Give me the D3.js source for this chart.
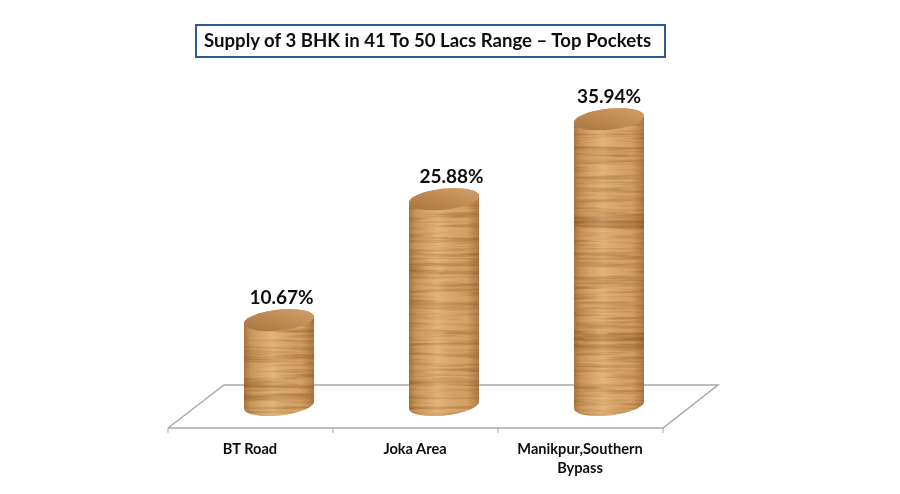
<!DOCTYPE html>
<html><head><meta charset="utf-8">
<script src="https://cdn.jsdelivr.net/npm/d3@7"></script>
<style>html,body{margin:0;padding:0;background:#fff}svg{display:block}text{font-family:Lato,sans-serif;fill:#111}</style>
</head><body><div id="c"></div>
<script>
const categories=["BT Road","Joka Area","Manikpur,Southern Bypass"];
const values=[10.67,25.88,35.94];
const valueLabels=["10.67%","25.88%","35.94%"];
const titleText="Supply of 3 BHK in 41 To 50 Lacs Range – Top Pockets";
const grainBT=[[6.0,.35],[2.4,.45],[1.0,.4]];
const grainJoka=[[17.7,.35],[16.7,.4],[12.7,.4],[2.9,.35]];
const grainManikpur=[[23.6,.4],[23.0,.65],[22.5,.55],[8.9,.5],[8.2,.7],[7.3,.6]];
const grains=[grainBT,grainJoka,grainManikpur];

const W=900,H=494;
const svg=d3.select("#c").append("svg").attr("width",W).attr("height",H);
const defs=svg.append("defs");
const x=d3.scaleBand().domain(categories).range([168,663]);
const y=d3.scaleLinear().domain([0,40]).range([405,87]);
const depthX=56,depthY=43,floorY=428;

const blur=defs.append("filter").attr("id","soft").attr("x","-5%").attr("y","-20%").attr("width","110%").attr("height","140%");
blur.append("feGaussianBlur").attr("stdDeviation",0.55);

const side=defs.append("linearGradient").attr("id","side");
[[0,"#7a4518",.6],[.12,"#8a5220",.22],[.42,"#fff0d0",.16],[.8,"#8a5220",.08],[1,"#6d3f15",.48]]
 .forEach(s=>side.append("stop").attr("offset",s[0]).attr("stop-color",s[1]).attr("stop-opacity",s[2]));
const cap=defs.append("linearGradient").attr("id","cap").attr("x1",0).attr("x2",1).attr("y1",1).attr("y2",0);
[[0,"#a8733e"],[.5,"#bf8a53"],[1,"#cfa06c"]].forEach(s=>cap.append("stop").attr("offset",s[0]).attr("stop-color",s[1]));
const wob=defs.append("filter").attr("id","wobble").attr("filterUnits","userSpaceOnUse").attr("x",0).attr("y",0).attr("width",W).attr("height",H);
wob.append("feTurbulence").attr("type","fractalNoise").attr("baseFrequency","0.03 0.02").attr("numOctaves",2).attr("seed",5).attr("result","n");
wob.append("feDisplacementMap").attr("in","SourceGraphic").attr("in2","n").attr("scale",2.5).attr("xChannelSelector","R").attr("yChannelSelector","G");
wob.append("feGaussianBlur").attr("stdDeviation","1 0.8");

categories.forEach((c,i)=>{
 const f=defs.append("filter").attr("id","grain"+i).attr("filterUnits","userSpaceOnUse")
   .attr("x",0).attr("y",0).attr("width",W).attr("height",H);
 f.append("feTurbulence").attr("type","fractalNoise").attr("baseFrequency","0.014 0.3").attr("numOctaves",4).attr("seed",i*7+3);
 f.append("feColorMatrix").attr("values","0 0 0 0 0.47  0 0 0 0 0.24  0 0 0 0 0.06  3.0 0 0 0 -1.3");
 f.append("feGaussianBlur").attr("stdDeviation","0.8 0.45");
});

const floor=svg.append("g").attr("filter","url(#soft)");
const x0=x.range()[0],x1=x.range()[1];
floor.append("path").attr("fill","none").attr("stroke","#a9a9a9").attr("stroke-width",1.5)
 .attr("d",d3.line()([[x0,floorY],[x0+depthX,floorY-depthY],[x1+depthX-1,floorY-depthY],[x1,floorY],[x0,floorY]]));
[x0,...categories.map(c=>x(c)+x.bandwidth())].forEach(t=>floor.append("line")
 .attr("x1",t).attr("x2",t).attr("y1",floorY).attr("y2",floorY+5).attr("stroke","#a9a9a9").attr("stroke-width",1));

const R=35,RY=10.5,TILT=6,rad=TILT*Math.PI/180,dy=R*Math.tan(rad);
const cyl=svg.append("g").attr("filter","url(#soft)");
categories.forEach((c,i)=>{
 const cx=x(c)+x.bandwidth()/2+28.5, top=y(values[i]), base=y(0);
 const arc=(X,Y,sw)=>`A${R/Math.cos(rad)} ${RY} ${-TILT} 0 ${sw} ${X} ${Y}`;
 const d=`M${cx-R} ${top+dy}L${cx-R} ${base+dy}${arc(cx+R,base-dy,0)}L${cx+R} ${top-dy}${arc(cx-R,top+dy,0)}Z`;
 const id="clip"+i;
 defs.append("clipPath").attr("id",id).append("path").attr("d",d);
 const g=cyl.append("g").attr("clip-path",`url(#${id})`);
 const box=s=>s.attr("x",cx-R-2).attr("y",top-14).attr("width",2*R+4).attr("height",base-top+30);
 box(g.append("rect")).attr("fill","#dcA76C");
 box(g.append("rect")).attr("fill","#000").attr("filter",`url(#grain${i})`);
 const bands=g.append("g").attr("filter","url(#wobble)");
 grains[i].forEach(b=>bands.append("rect").attr("x",cx-R-6).attr("y",y(b[0])-1.3).attr("width",2*R+12).attr("height",2.6).attr("fill","#7f4818").attr("opacity",b[1]));
 box(g.append("rect")).attr("fill","url(#side)");
 cyl.append("path").attr("d",`M${cx-R} ${top+dy}${arc(cx+R,top-dy,1)}${arc(cx-R,top+dy,1)}Z`).attr("fill","url(#cap)");
});

const txt=svg.append("g").attr("filter","url(#soft)");
values.forEach((v,i)=>{
 const c=categories[i];
 txt.append("text").attr("x",x(c)+x.bandwidth()/2+[31,36,28.5][i]).attr("y",y(v)-16).attr("text-anchor","middle")
  .attr("font-size",19).attr("font-weight",700).text(valueLabels[i]);
});
const wrap={"Manikpur,Southern Bypass":["Manikpur,Southern","Bypass"]};
categories.forEach(c=>{
 (wrap[c]||[c]).forEach((l,j)=>txt.append("text").attr("x",x(c)+x.bandwidth()/2-0.5).attr("y",454+j*19).attr("text-anchor","middle")
  .attr("font-size",14.6).attr("font-weight",700).attr("fill","#222").text(l));
});
txt.append("rect").attr("x",196).attr("y",25).attr("width",469).attr("height",32).attr("fill","#fff").attr("stroke","#2a5a95").attr("stroke-width",2);
txt.append("text").attr("x",204).attr("y",47).attr("font-size",18.6).attr("font-weight",700).text(titleText);
</script></body></html>
